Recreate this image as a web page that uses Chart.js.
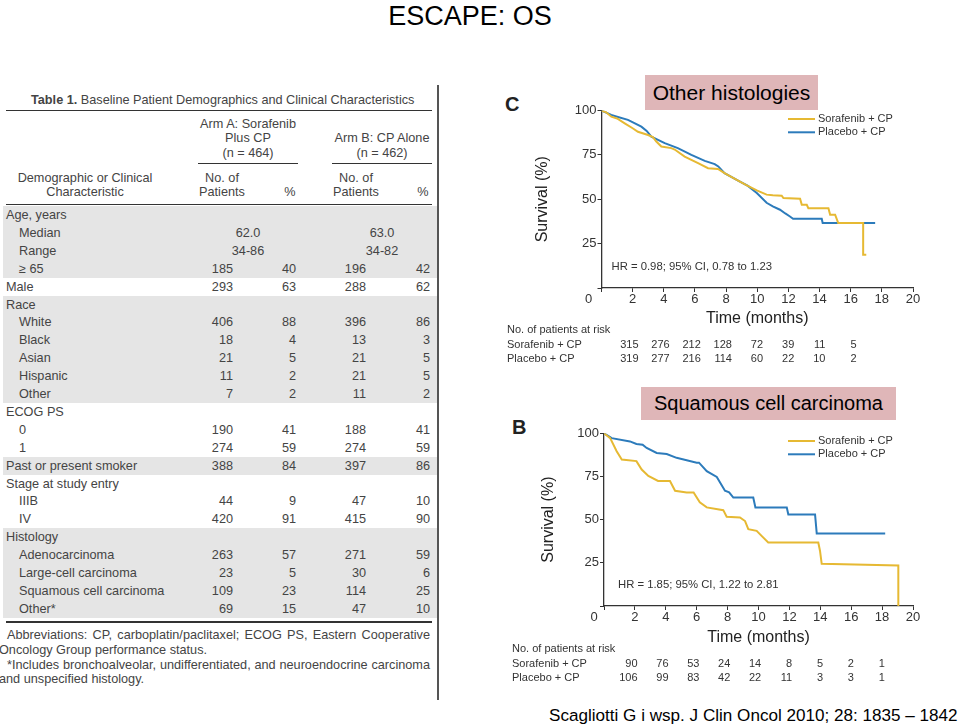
<!DOCTYPE html>
<html>
<head>
<meta charset="utf-8">
<script src="https://cdn.jsdelivr.net/npm/chart.js@4.4.1/dist/chart.umd.min.js"></script>
<style>
body { margin:0; width:960px; height:726px; background:#fff; position:relative; overflow:hidden;
       font-family:"Liberation Sans", Arial, sans-serif; }
.t { position:absolute; white-space:nowrap; line-height:16px; height:16px; }
.tab { color:#444; font-size:12.7px; }
.hl { position:absolute; background:#333; }
.pink { position:absolute; background:#dfb6b8; color:#000; text-align:center; }
canvas { position:absolute; }
</style>
</head>
<body>
<div class="t" style="left:-10px;width:960px;top:1px;height:30px;line-height:30px;text-align:center;font-size:27px;color:#000">ESCAPE: OS</div>

<div id="table"></div>
<div style="position:absolute;left:437px;top:85px;width:1.5px;height:615px;background:#555"></div>

<div class="t" style="left:505px;top:94px;height:20px;line-height:20px;font-size:20px;font-weight:bold;color:#222">C</div>
<div class="t" style="left:512px;top:417px;height:20px;line-height:20px;font-size:20px;font-weight:bold;color:#222">B</div>
<div class="pink" style="left:645px;top:75px;width:173px;height:35px;line-height:35px;font-size:21px">Other histologies</div>
<div class="pink" style="left:641px;top:387px;width:255px;height:33px;line-height:33px;font-size:20px">Squamous cell carcinoma</div>

<canvas id="chartC" width="430" height="280" style="left:500px;top:95px"></canvas>
<canvas id="chartB" width="430" height="280" style="left:500px;top:415px"></canvas>

<div class="t" style="left:549px;top:706px;height:20px;line-height:20px;font-size:17.1px;color:#000">Scagliotti G i wsp. J Clin Oncol 2010; 28: 1835 – 1842</div>

<script>
// ---- table 1 values ----
const rowLabels = ["Age, years", "Median", "Range", "\u2265 65", "Male", "Race", "White", "Black", "Asian",
  "Hispanic", "Other", "ECOG PS", "0", "1", "Past or present smoker", "Stage at study entry", "IIIB", "IV",
  "Histology", "Adenocarcinoma", "Large-cell carcinoma", "Squamous cell carcinoma", "Other*"];
const rowIndent = [0,1,1,1,0,0,1,1,1,1,1,0,1,1,0,0,1,1,0,1,1,1,1];
const rowShaded = [1,1,1,1,0,1,1,1,1,1,1,0,0,0,1,0,0,0,1,1,1,1,1];
const armANo  = ["", "62.0", "34-86", "185", "293", "", "406", "18", "21", "11", "7", "", "190", "274", "388", "", "44", "420", "", "263", "23", "109", "69"];
const armAPct = ["", "", "", "40", "63", "", "88", "4", "5", "2", "2", "", "41", "59", "84", "", "9", "91", "", "57", "5", "23", "15"];
const armBNo  = ["", "63.0", "34-82", "196", "288", "", "396", "13", "21", "21", "11", "", "188", "274", "397", "", "47", "415", "", "271", "30", "114", "47"];
const armBPct = ["", "", "", "42", "62", "", "86", "3", "5", "5", "2", "", "41", "59", "86", "", "10", "90", "", "59", "6", "25", "10"];
const centeredRows = [1, 2];

// ---- survival curves (months, % alive) ----
const otherSorafenib = [[0,100],[0.3,99],[0.63,96.5],[1.0,95.5],[1.49,92.8],[2.0,90],[2.34,88],[2.99,86.2],[3.3,85],
  [3.52,82.5],[3.84,79.7],[4.48,78.8],[4.7,78],[5.34,74],[6.2,70.3],[6.84,67.5],[7.48,67.1],[7.9,64.7],[8.77,60.5],
  [9.3,58],[9.97,55],[10.6,52.6],[11.0,52.3],[11.57,52],[11.68,50.7],[12.75,50.3],[12.86,46.9],[13.18,46.9],
  [13.28,45],[14.57,45],[14.68,41.3],[15.0,41.3],[15.2,36.6],[16.8,36.6],[16.8,18.8],[17.0,18.8]];
const otherPlacebo = [[0,100],[0.63,97.5],[1.0,96.5],[1.7,94.7],[2.56,90.9],[2.9,88.5],[3.2,85.3],[4.06,81.6],
  [4.9,78.8],[5.77,75],[6.63,71.6],[7.27,69.8],[7.5,68.5],[7.9,64.7],[8.77,60.5],[9.4,57.5],[9.97,53.5],[10.6,48],
  [11.0,46],[11.46,44.1],[11.8,42],[12.1,40.3],[12.3,39],[14.14,39],[14.2,36.6],[17.57,36.6]];
const squamSorafenib = [[0,100],[0.4,97.2],[0.82,89.6],[1.15,84.8],[2.1,83.9],[2.44,79],[2.87,75.3],[3.5,72.4],
  [4.27,72.4],[4.6,66.7],[5.35,65.7],[5.8,65.7],[6.2,60],[6.65,57.1],[7.72,55.5],[7.94,51.7],[8.8,51.3],[9.13,49.2],
  [9.34,44.5],[9.88,43.5],[10.2,40.6],[10.63,36.8],[13.87,36.8],[13.98,32],[14.09,24.4],[19.05,23.4],[19.05,0]];
const squamPlacebo = [[0,100],[0.5,97.2],[1.68,95.3],[2.1,93.8],[2.5,93.4],[2.76,91.5],[3.41,88.6],[4.06,88],
  [4.7,85.8],[6.0,82.9],[6.15,83],[6.65,78.1],[7.3,74.7],[7.83,66.7],[8.1,65.8],[8.37,62.8],[9.66,62.8],[9.8,57],
  [11.83,57],[11.93,53],[13.66,53],[13.77,42],[18.2,42]];

// ---- patients at risk ----
const riskOtherSorafenib = [315, 276, 212, 128, 72, 39, 11, 5];
const riskOtherPlacebo   = [319, 277, 216, 114, 60, 22, 10, 2];
const riskSquamSorafenib = [90, 76, 53, 24, 14, 8, 5, 2, 1];
const riskSquamPlacebo   = [106, 99, 83, 42, 22, 11, 3, 3, 1];

const YELLOW = "#e6b933";
const BLUE = "#2c7bbb";
const FONT = '"Liberation Sans", Arial, sans-serif';

// build the table
const table = document.getElementById("table");
function put(text, x, yc, align, extra) {
  const d = document.createElement("div");
  d.className = "t tab";
  d.innerHTML = text;
  d.style.top = (yc - 8) + "px";
  if (align === "right") { d.style.left = (x - 150) + "px"; d.style.width = "150px"; d.style.textAlign = "right"; }
  else if (align === "center") { d.style.left = (x - 110) + "px"; d.style.width = "220px"; d.style.textAlign = "center"; }
  else d.style.left = x + "px";
  if (extra) Object.assign(d.style, extra);
  table.appendChild(d);
}
function line(x1, x2, y, h) {
  const d = document.createElement("div");
  d.className = "hl";
  Object.assign(d.style, { left: x1 + "px", width: (x2 - x1) + "px", top: y + "px", height: h + "px" });
  table.appendChild(d);
}

put("<b>Table 1.</b> Baseline Patient Demographics and Clinical Characteristics", 31, 100);
line(6, 432, 109.5, 1.3);
put("Arm A: Sorafenib", 248, 124, "center");
put("Plus CP", 248, 137.5, "center");
put("(n = 464)", 248, 153, "center");
put("Arm B: CP Alone", 382, 137.5, "center");
put("(n = 462)", 382, 153, "center");
line(198, 298, 163, 1.2);
line(332, 432, 163, 1.2);
put("Demographic or Clinical", 85, 177.5, "center");
put("Characteristic", 85, 191.5, "center");
put("No. of", 222, 177.5, "center");
put("Patients", 222, 191.5, "center");
put("%", 290, 191.5, "center");
put("No. of", 356, 177.5, "center");
put("Patients", 356, 191.5, "center");
put("%", 423, 191.5, "center");
line(6, 432, 203.5, 1.3);

rowLabels.forEach((lab, i) => {
  const yc = 215 + 17.9 * i;
  if (rowShaded[i]) {
    const s = document.createElement("div");
    Object.assign(s.style, { position: "absolute", left: "3px", width: "434px", top: (yc - 9) + "px", height: "18px", background: "#e5e5e5" });
    table.appendChild(s);
  }
  put(lab, rowIndent[i] ? 19 : 6, yc);
  if (centeredRows.includes(i)) {
    put(armANo[i], 248, yc, "center");
    put(armBNo[i], 382, yc, "center");
  } else {
    put(armANo[i], 233, yc, "right");
    put(armAPct[i], 296, yc, "right");
    put(armBNo[i], 366, yc, "right");
    put(armBPct[i], 430, yc, "right");
  }
});
line(6, 432, 620.5, 2);
const just = { width: "423px", textAlign: "justify", textAlignLast: "justify" };
put("Abbreviations: CP, carboplatin/paclitaxel; ECOG PS, Eastern Cooperative", 7, 635, null, just);
put("Oncology Group performance status.", -1, 649.5);
put("*Includes bronchoalveolar, undifferentiated, and neuroendocrine carcinoma", 7, 664.5, null, just);
put("and unspecified histology.", -1, 679);

// labels, HR, corner zero and at-risk rows drawn on the chart canvas
const kmOverlay = {
  id: "kmOverlay",
  afterDraw(chart, args, o) {
    const { ctx, chartArea: a, scales: { x } } = chart;
    ctx.save();
    ctx.fillStyle = "#333";
    ctx.textBaseline = "middle";
    ctx.font = "11px " + FONT;
    chart.data.datasets.forEach((ds, i) => {
      const y = a.top + o.legendTop + i * 13.3;
      ctx.strokeStyle = ds.borderColor;
      ctx.lineWidth = 2;
      ctx.beginPath();
      ctx.moveTo(a.right - 125, y);
      ctx.lineTo(a.right - 98, y);
      ctx.stroke();
      ctx.textAlign = "left";
      ctx.fillText(ds.label, a.right - 95, y);
    });
    ctx.font = "11.3px " + FONT;
    ctx.fillText(o.hr, a.left + o.hrX, a.bottom - o.hrY);
    ctx.font = "13px " + FONT;
    ctx.textAlign = "center";
    ctx.fillText("0", x.getPixelForValue(0) - o.zeroShift, a.bottom + 11.8);
    ctx.font = "11px " + FONT;
    ctx.textAlign = "left";
    ctx.fillText("No. of patients at risk", o.riskLabelX, a.bottom + o.riskTop);
    chart.data.datasets.forEach((ds, i) => {
      const y = a.bottom + o.riskTop + 15 + i * 13.8;
      ctx.textAlign = "left";
      ctx.fillText(ds.label, o.riskLabelX, y);
      ctx.textAlign = "right";
      o.risk[i].forEach((n, k) => ctx.fillText(String(n), x.getPixelForValue(2 * k) + o.riskShift, y));
    });
    ctx.restore();
  }
};

Chart.defaults.font.family = FONT;

function kmChart(id, sor, pla, o) {
  return new Chart(document.getElementById(id), {
    type: "line",
    data: {
      datasets: [
        { label: "Sorafenib + CP", data: sor.map(p => ({ x: p[0], y: p[1] })), borderColor: YELLOW, borderWidth: 2, pointRadius: 0, tension: 0 },
        { label: "Placebo + CP", data: pla.map(p => ({ x: p[0], y: p[1] })), borderColor: BLUE, borderWidth: 2, pointRadius: 0, tension: 0 }
      ]
    },
    options: {
      responsive: false,
      animation: false,
      layout: { padding: { left: 0, top: o.padTop, right: 17, bottom: o.padBottom } },
      plugins: { legend: { display: false }, tooltip: { enabled: false }, kmOverlay: o },
      scales: {
        x: {
          type: "linear", min: 0, max: 20,
          afterFit: s => { s.height = o.xHeight; },
          border: { color: "#333", width: 1.3 },
          grid: { drawOnChartArea: false, tickLength: 4, color: "#333" },
          ticks: { stepSize: 2, padding: 0, color: "#333", font: { size: 13 }, callback: v => v === 0 ? "" : v },
          title: { display: true, text: "Time (months)", color: "#222", font: { size: 16 }, padding: { top: 0, bottom: 0 } }
        },
        y: {
          min: 0, max: 100,
          afterFit: s => { s.width = o.yWidth; },
          border: { color: "#333", width: 1.3 },
          grid: { drawOnChartArea: false, tickLength: 4, color: "#333" },
          ticks: { stepSize: 25, padding: 1, color: "#333", font: { size: 13 }, callback: v => v === 0 ? "" : v },
          title: { display: true, text: "Survival (%)", color: "#222", font: { size: 16 }, padding: { top: o.yTitlePad, bottom: 0 } }
        }
      }
    },
    plugins: [kmOverlay]
  });
}

kmChart("chartC", otherSorafenib, otherPlacebo, {
  padTop: 15.5, padBottom: 47, xHeight: 40, yWidth: 101.5, yTitlePad: 33.4,
  legendTop: 8.5, hr: "HR = 0.98; 95% CI, 0.78 to 1.23", hrX: 10, hrY: 21.5, zeroShift: 13,
  riskLabelX: 7, riskTop: 42, riskShift: 37, risk: [riskOtherSorafenib, riskOtherPlacebo]
});
kmChart("chartB", squamSorafenib, squamPlacebo, {
  padTop: 18.3, padBottom: 47.7, xHeight: 41.3, yWidth: 104, yTitlePad: 39.4,
  legendTop: 7.7, hr: "HR = 1.85; 95% CI, 1.22 to 2.81", hrX: 14, hrY: 21, zeroShift: 10,
  riskLabelX: 12, riskTop: 43, riskShift: 33.6, risk: [riskSquamSorafenib, riskSquamPlacebo]
});
</script>
</body>
</html>
